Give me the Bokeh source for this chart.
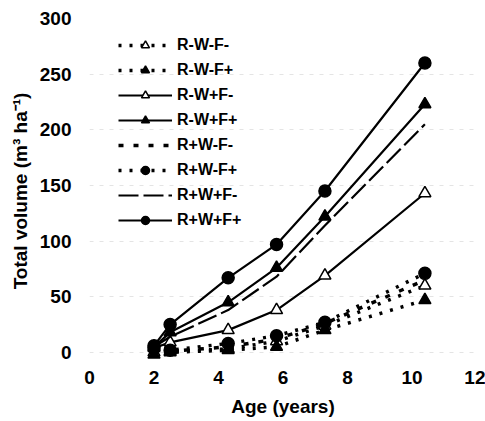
from bokeh.plotting import figure
from bokeh.embed import file_html
from bokeh.resources import INLINE
from bokeh.models import FixedTicker, Legend, LegendItem

ages = [2.0, 2.5, 4.3, 5.8, 7.3, 10.4]

series_names = ["R-W-F-", "R-W-F+", "R-W+F-", "R-W+F+", "R+W-F-", "R+W-F+", "R+W+F-", "R+W+F+"]
rwf_minus_minus = [0, 1, 3, 10, 24, 60]      # R-W-F-
rwf_minus_plus = [-2, 0, 2, 5, 20, 47]       # R-W-F+
rw_plus_f_minus = [4, 9, 20, 38, 69, 143]    # R-W+F-
rw_plus_f_plus = [5, 18, 45, 76, 122, 223]   # R-W+F+
r_plus_w_minus_f_minus = [0, 1, 5, 12, 26, 65]   # R+W-F-
r_plus_w_minus_f_plus = [4, 2, 8, 15, 27, 71]    # R+W-F+
r_plus_w_plus_f_minus = [5, 14, 38, 68, 114, 205]  # R+W+F-
r_plus_w_plus_f_plus = [6, 25, 67, 97, 145, 260]   # R+W+F+

values = [rwf_minus_minus, rwf_minus_plus, rw_plus_f_minus, rw_plus_f_plus,
          r_plus_w_minus_f_minus, r_plus_w_minus_f_plus, r_plus_w_plus_f_minus, r_plus_w_plus_f_plus]

x_ticks = [0, 2, 4, 6, 8, 10, 12]
y_ticks = [0, 50, 100, 150, 200, 250, 300]

x_title = "Age (years)"
y_title = "Total volume (m³ ha⁻¹)"

# style: (line_dash, line_width, marker, fill)
styles = [
    ("3 8", 3.5, "triangle", "white"),
    ("3 8", 3.5, "triangle", "black"),
    ("solid", 2.2, "triangle", "white"),
    ("solid", 2.2, "triangle", "black"),
    ("5 10", 3.5, None, None),
    ("3 8", 3.5, "circle", "black"),
    ("20 5", 2.2, None, None),
    ("solid", 2.2, "circle", "black"),
]

FONT = "Liberation Sans"

p = figure(width=485, height=421, output_backend="svg", toolbar_location=None,
           x_range=(0, 12), y_range=(-10, 300),
           min_border_left=89, min_border_right=9, min_border_top=18, min_border_bottom=58)
p.outline_line_color = None
p.background_fill_color = "white"
p.border_fill_color = "white"

items = []
for name, vals, (dash, lw, marker, fill) in zip(series_names, values, styles):
    rs = []
    rs.append(p.line(ages, vals, line_color="black", line_width=lw, line_dash=dash))
    if marker is not None:
        rs.append(p.scatter(ages, vals, marker=marker, size=12, fill_color=fill,
                            line_color="black", line_width=1.5))
    items.append(LegendItem(label=name, renderers=rs))

legend = Legend(items=items, location=(29, 133))
legend.label_text_font = FONT
legend.label_text_font_style = "bold"
legend.label_text_font_size = "16px"
legend.label_text_color = "black"
legend.glyph_width = 54
legend.glyph_height = 20
legend.label_height = 20
legend.spacing = 5
legend.padding = 0
legend.margin = 0
legend.label_standoff = 5
legend.border_line_color = None
legend.background_fill_alpha = 0
p.add_layout(legend)

for ax in (p.xaxis[0], p.yaxis[0]):
    ax.axis_line_color = None
    ax.major_tick_line_color = None
    ax.minor_tick_line_color = None
    ax.major_tick_out = 0
    ax.major_tick_in = 0
    ax.major_label_text_font = FONT
    ax.major_label_text_font_style = "bold"
    ax.major_label_text_font_size = "19px"
    ax.major_label_text_color = "black"
    ax.axis_label_text_font = FONT
    ax.axis_label_text_font_style = "bold"
    ax.axis_label_text_color = "black"
    ax.axis_label_text_font_size = "19px"

p.xaxis[0].ticker = FixedTicker(ticks=x_ticks)
p.yaxis[0].ticker = FixedTicker(ticks=y_ticks)
p.xaxis[0].axis_label = x_title
p.yaxis[0].axis_label = y_title
p.xaxis[0].major_label_standoff = 7
p.yaxis[0].major_label_standoff = 18
p.xaxis[0].axis_label_standoff = 9
p.yaxis[0].axis_label_standoff = 6

p.xgrid.grid_line_color = None
p.ygrid.grid_line_color = "#e4e4e4"
p.ygrid.grid_line_dash = "4 6"
p.ygrid.grid_line_width = 1

open("out.html", "w").write(file_html(p, INLINE))
